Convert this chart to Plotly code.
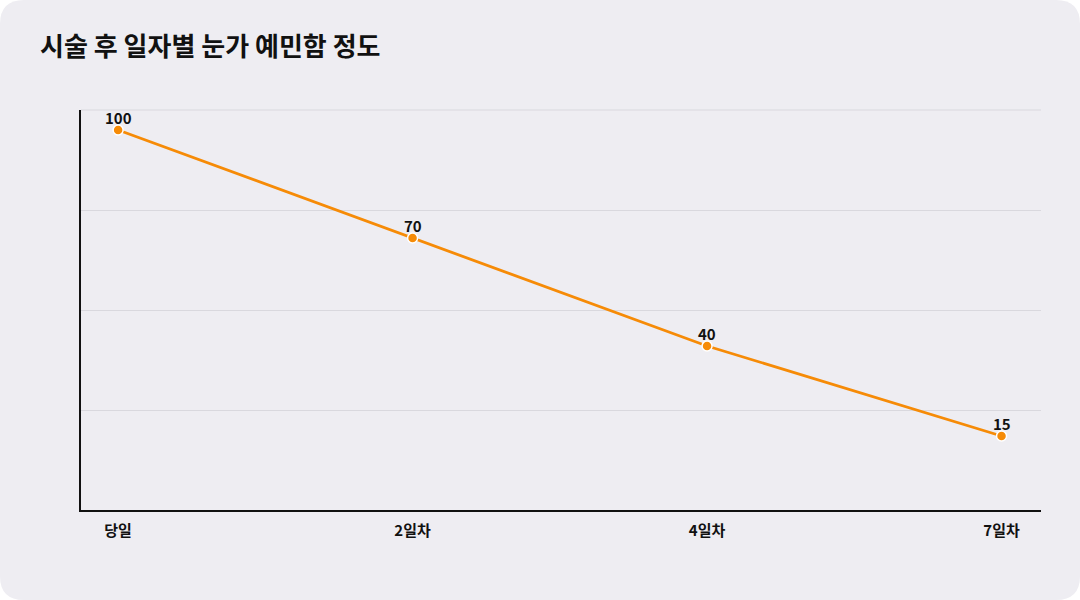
import plotly.graph_objects as go

categories = ["당일", "2일차", "4일차", "7일차"]
values = [100, 70, 40, 15]
title_text = "시술 후 일자별 눈가 예민함 정도"

W, H = 1080, 600
ML, MR, MT, MB = 81, 39, 110, 90
PW, PH = W - ML - MR, H - MT - MB

def px(x):
    return (x - ML) / PW

def py(y):
    return (H - MB - y) / PH

r = 24
x0, x1, y0, y1 = px(0), px(W), py(0), py(H)
rx, ry = r / PW, r / PH
path = (
    f"M {x0+rx} {y0} L {x1-rx} {y0} Q {x1} {y0} {x1} {y0-ry} "
    f"L {x1} {y1+ry} Q {x1} {y1} {x1-rx} {y1} "
    f"L {x0+rx} {y1} Q {x0} {y1} {x0} {y1+ry} "
    f"L {x0} {y0-ry} Q {x0} {y0} {x0+rx} {y0} Z"
)

FONT = "Noto Sans CJK KR"

fig = go.Figure()
fig.add_trace(go.Scatter(
    x=categories, y=values,
    mode="lines+markers",
    line=dict(color="#F68B07", width=2.8),
    marker=dict(color="#F68B07", size=10, line=dict(color="#FFFFFF", width=1.5)),
    cliponaxis=False,
    hoverinfo="skip",
))

annotations = [
    dict(x=c, y=v, xref="x", yref="y", text=str(v), showarrow=False,
         yanchor="bottom", yshift=0,
         font=dict(family=FONT, size=15, color="#111111", weight="bold"))
    for c, v in zip(categories, values)
]

lo, hi = -5.5556, 105.5556
step = (hi - lo) / 4
fig.update_layout(
    width=W, height=H,
    margin=dict(l=ML, r=MR, t=MT, b=MB),
    paper_bgcolor="#FFFFFF",
    plot_bgcolor="rgba(0,0,0,0)",
    showlegend=False,
    annotations=annotations,
    title=dict(
        text=title_text, x=40 / W, xanchor="left", y=1 - 47 / H, yanchor="middle",
        font=dict(family=FONT, size=26, color="#111111", weight="bold"),
    ),
    shapes=[
        dict(type="path", xref="paper", yref="paper", path=path,
             fillcolor="#EEEDF2", line=dict(width=0), layer="below"),
        dict(type="line", xref="paper", yref="paper", x0=0, x1=1, y0=1, y1=1,
             line=dict(color="#D9D8DE", width=1), layer="below"),
    ],
    xaxis=dict(
        type="category", range=[-0.126, 3.134],
        showgrid=False, showline=True, linecolor="#111111", linewidth=2,
        ticks="", ticklabelstandoff=6,
        tickfont=dict(family=FONT, size=15, color="#111111", weight="bold"),
        zeroline=False, fixedrange=True,
    ),
    yaxis=dict(
        range=[lo, hi], tickmode="array",
        tickvals=[lo + step * i for i in range(1, 4)],
        showticklabels=False, ticks="",
        showgrid=True, gridcolor="#D9D8DE", gridwidth=1,
        showline=True, linecolor="#111111", linewidth=2,
        zeroline=False, fixedrange=True,
    ),
)

fig.write_html("out.html", config={"displayModeBar": False},
               post_script="document.body.style.margin='0';")
